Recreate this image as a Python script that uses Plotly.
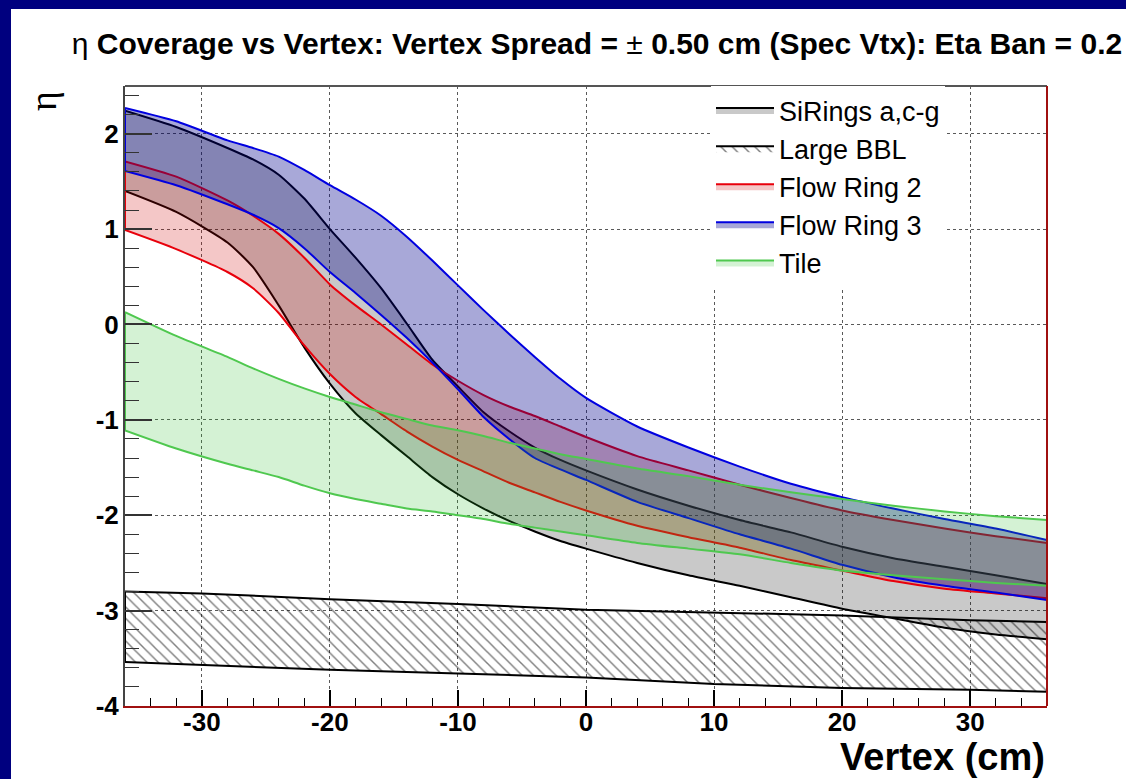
import plotly.graph_objects as go

# ---------------- data ----------------
VTX = [-36, -32, -28, -26, -24, -22, -20, -18, -16, -14, -12, -10, -8, -6, -4, -2,
       0, 4, 8, 12, 16, 20, 24, 28, 32, 36]

SIRINGS_HI = [2.24, 2.07, 1.85, 1.73, 1.57, 1.32, 1.00, 0.70, 0.38, 0.01, -0.37, -0.65,
              -0.92, -1.12, -1.29, -1.42, -1.53, -1.73, -1.90, -2.05, -2.18, -2.33,
              -2.45, -2.54, -2.63, -2.72]
SIRINGS_LO = [1.40, 1.18, 0.86, 0.60, 0.20, -0.24, -0.62, -0.93, -1.16, -1.38, -1.60,
              -1.78, -1.93, -2.06, -2.17, -2.27, -2.35, -2.50, -2.63, -2.74, -2.86,
              -2.98, -3.08, -3.18, -3.25, -3.30]

FR2_HI = [1.71, 1.55, 1.30, 1.14, 0.95, 0.70, 0.42, 0.20, 0.00, -0.21, -0.42, -0.59,
          -0.74, -0.86, -0.96, -1.07, -1.18, -1.38, -1.53, -1.68, -1.82, -1.95, -2.05,
          -2.14, -2.22, -2.29]
FR2_LO = [0.99, 0.79, 0.55, 0.38, 0.12, -0.22, -0.52, -0.76, -0.94, -1.12, -1.28, -1.42,
          -1.54, -1.66, -1.76, -1.86, -1.95, -2.11, -2.23, -2.34, -2.47, -2.58, -2.69,
          -2.77, -2.82, -2.87]

FR3_HI = [2.27, 2.13, 1.93, 1.85, 1.76, 1.62, 1.46, 1.31, 1.14, 0.92, 0.67, 0.41, 0.15,
          -0.10, -0.34, -0.57, -0.77, -1.07, -1.29, -1.49, -1.67, -1.81, -1.93, -2.04,
          -2.14, -2.26]
FR3_LO = [1.61, 1.46, 1.26, 1.15, 1.01, 0.80, 0.55, 0.33, 0.10, -0.14, -0.40, -0.68,
          -0.97, -1.20, -1.40, -1.52, -1.63, -1.86, -2.03, -2.20, -2.35, -2.52, -2.65,
          -2.74, -2.81, -2.89]

TILE_HI = [0.13, -0.12, -0.34, -0.46, -0.57, -0.67, -0.76, -0.84, -0.92, -0.99, -1.06,
           -1.11, -1.17, -1.24, -1.30, -1.36, -1.41, -1.51, -1.59, -1.68, -1.76, -1.83,
           -1.90, -1.96, -2.01, -2.05]
TILE_LO = [-1.11, -1.30, -1.46, -1.53, -1.60, -1.69, -1.77, -1.83, -1.88, -1.93, -1.96,
           -2.00, -2.04, -2.09, -2.13, -2.17, -2.21, -2.29, -2.35, -2.41, -2.50, -2.58,
           -2.63, -2.67, -2.71, -2.74]

BBL_VTX = [-36, -30, -20, -10, 0, 10, 20, 30, 36]
BBL_HI = [-2.80, -2.82, -2.88, -2.93, -2.99, -3.02, -3.05, -3.10, -3.12]
BBL_LO = [-3.54, -3.57, -3.62, -3.66, -3.70, -3.77, -3.81, -3.83, -3.85]

X_TICKS = [-30, -20, -10, 0, 10, 20, 30]
Y_TICKS = [-4, -3, -2, -1, 0, 1, 2]

TITLE = ("η <b>Coverage vs Vertex: Vertex Spread =</b> ± "
         "<b>0.50 cm (Spec Vtx): Eta Ban = 0.2</b>")

# ---------------- figure ----------------
fig = go.Figure()


def add_band(name, x, hi, lo, line_color, fillcolor, pattern=None, smooth=0.6):
    shape = "spline" if smooth else "linear"
    line = dict(color=line_color, width=2, shape=shape, smoothing=smooth or 0)
    fig.add_trace(go.Scatter(x=x, y=lo, mode="lines", line=line, showlegend=False,
                             legendgroup=name, hoverinfo="skip"))
    kw = {}
    if pattern is not None:
        kw["fillpattern"] = pattern
    fig.add_trace(go.Scatter(x=x, y=hi, mode="lines", name=name, fill="tonexty",
                             fillcolor=fillcolor, line=line, legendgroup=name,
                             hoverinfo="skip", **kw))
    fig.add_trace(go.Scatter(x=[x[0], x[0], None, x[-1], x[-1]],
                             y=[lo[0], hi[0], None, lo[-1], hi[-1]], mode="lines",
                             line=dict(color=line_color, width=2), showlegend=False,
                             legendgroup=name, hoverinfo="skip"))


add_band("SiRings a,c-g", VTX, SIRINGS_HI, SIRINGS_LO, "black", "rgba(0,0,0,0.21)")
add_band("Large BBL", BBL_VTX, BBL_HI, BBL_LO, "black", "rgba(0,0,0,0)",
         pattern=dict(shape="\\", fgcolor="black", bgcolor="rgba(0,0,0,0)",
                      size=8, solidity=0.18), smooth=0)
add_band("Flow Ring 2", VTX, FR2_HI, FR2_LO, "#e8000b", "rgba(205,0,0,0.22)")
add_band("Flow Ring 3", VTX, FR3_HI, FR3_LO, "#0000e0", "rgba(0,0,140,0.34)")
add_band("Tile", VTX, TILE_HI, TILE_LO, "#4fc84f", "rgba(40,190,40,0.20)")

tick_font = dict(family="Liberation Sans, Arial, sans-serif", size=26,
                 color="black", weight="bold")
grid = dict(showgrid=True, gridcolor="rgba(0,0,0,0.65)", griddash="dot", gridwidth=1)

fig.update_xaxes(range=[-36, 36], tickvals=X_TICKS, ticktext=[str(v) for v in X_TICKS],
                 ticks="inside", ticklen=16, tickwidth=1.5, tickcolor="black",
                 minor=dict(dtick=2, ticks="inside", ticklen=8, tickwidth=1.2,
                            tickcolor="black", showgrid=False),
                 showline=True, linecolor="#a01010", linewidth=2, mirror=False,
                 zeroline=False, tickfont=tick_font, ticklabelstandoff=-8, **grid)
fig.update_yaxes(range=[-4, 2.5], tickvals=Y_TICKS, ticktext=[str(v) for v in Y_TICKS],
                 ticks="inside", ticklen=27, tickwidth=1.5, tickcolor="#333",
                 minor=dict(dtick=0.2, ticks="inside", ticklen=14, tickwidth=1.2,
                            tickcolor="#333", showgrid=False),
                 showline=True, linecolor="#444", linewidth=2, mirror=False,
                 zeroline=False, tickfont=tick_font, ticklabelstandoff=-1, **grid)

W, H = 1126, 779
L, R, T, B = 125, 79, 86, 73
pw, ph = W - L - R, H - T - B


def px_x(p):
    return (p - L) / pw


def px_y(p):
    return 1 - (p - T) / ph


NAVY = "#00007f"
shapes = [
    dict(type="rect", xref="paper", yref="paper", x0=px_x(-5), x1=px_x(W + 5),
         y0=px_y(9), y1=px_y(-5), fillcolor=NAVY, line=dict(width=0), layer="below"),
    dict(type="rect", xref="paper", yref="paper", x0=px_x(-5), x1=px_x(11),
         y0=px_y(H + 5), y1=px_y(-5), fillcolor=NAVY, line=dict(width=0), layer="below"),
    dict(type="line", xref="paper", yref="paper", x0=0, x1=1, y0=1, y1=1,
         line=dict(color="#555", width=2)),
    dict(type="line", xref="paper", yref="paper", x0=1, x1=1, y0=0, y1=1,
         line=dict(color="#a01010", width=2)),
]

annotations = [
    dict(text="η", xref="paper", yref="paper", x=px_x(43), y=px_y(101),
         xanchor="center", yanchor="middle", showarrow=False, textangle=-90,
         font=dict(family="Liberation Serif, Times New Roman, serif", size=38,
                   color="black")),
    dict(text="<b>Vertex (cm)</b>", xref="paper", yref="paper", x=1, y=px_y(757),
         xanchor="right", yanchor="middle", showarrow=False,
         font=dict(family="Liberation Sans, Arial, sans-serif", size=38, color="black")),
]

fig.update_layout(
    width=W, height=H,
    margin=dict(l=L, r=R, t=T, b=B, pad=0),
    paper_bgcolor="white", plot_bgcolor="white",
    title=dict(text=TITLE, x=597 / W, xanchor="center", xref="container",
               y=1 - 43 / H, yanchor="middle", yref="container",
               font=dict(family="Liberation Sans, Arial, sans-serif", size=30,
                         color="black")),
    showlegend=True,
    legend=dict(x=px_x(711), y=px_y(86), xanchor="left", yanchor="top",
                bgcolor="white", borderwidth=0, itemwidth=58,
                font=dict(family="Liberation Sans, Arial, sans-serif", size=27,
                          color="black"),
                tracegroupgap=0, itemclick=False, itemdoubleclick=False),
    shapes=shapes, annotations=annotations,
)

fig.write_html("out.html")
